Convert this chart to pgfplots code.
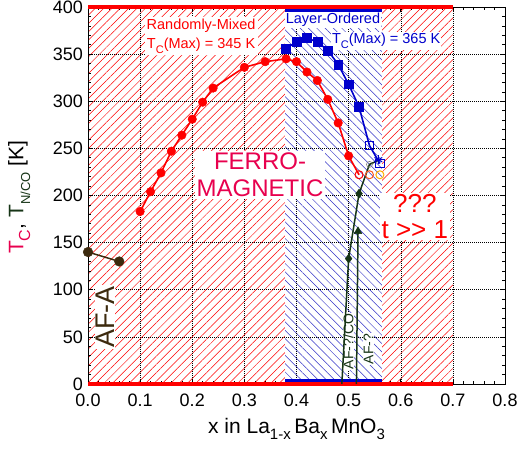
\documentclass[border=0pt]{standalone}
\usepackage{pgfplots}
\pgfplotsset{compat=1.18}
\usepackage{fontspec}
\setmainfont{Liberation Sans}
\usetikzlibrary{patterns.meta}
\definecolor{crim}{HTML}{E8004E}
\definecolor{dgreen}{HTML}{163416}
\definecolor{brn}{HTML}{3C2A0E}
\definecolor{bl}{HTML}{0000CC}
\definecolor{hblue}{HTML}{3434C8}
\definecolor{oranA}{HTML}{FF5A1F}
\definecolor{oranB}{HTML}{FFB000}
\newcommand{\sub}[2][11]{\raisebox{-0.6ex}{\fontsize{#1}{#1}\selectfont #2}}
\begin{document}
\begin{tikzpicture}
\begin{axis}[name=ax, set layers, scale only axis, width=417pt, height=377pt,
  xmin=0, xmax=0.8, ymin=0, ymax=400, clip=false,
  xtick={0,0.1,0.2,0.3,0.4,0.5,0.6,0.7,0.8},
  ytick={0,50,100,150,200,250,300,350,400},
  minor x tick num=4, minor y tick num=4,
  tick align=inside, major tick length=5pt, minor tick length=3pt,
  /pgf/number format/assume math mode=true,
  tick label style={font=\fontsize{18}{18}\selectfont, inner sep=1pt},
  x tick label style={/pgf/number format/.cd, fixed, fixed zerofill, precision=1, /tikz/.cd, yshift=-9pt},
  y tick label style={xshift=-4pt},
  grid=major, grid style={black, line width=0.5pt, dash pattern=on 0.8pt off 1.2pt},
  axis line style={black, line width=0.8pt},
  tick style={black, line width=0.6pt},
  xlabel={x in La\sub[15]{1-x}\,Ba\sub[15]{x}\,MnO\sub[15]{3}},
  ylabel={{\color{crim}T\sub[16]{C}}, {\color{dgreen}T\sub[13]{N/CO}} [K]},
  label style={font=\fontsize{21}{21}\selectfont},
  xlabel style={at={(rel axis cs:0.5,-0.13)}, anchor=base},
  ylabel style={at={(rel axis cs:-0.165,0.495)}, anchor=center},
]
% hatched regions
\addplot[on layer=axis background, draw=none, pattern={Lines[angle=45,distance=5.9pt,line width=0.5pt]}, pattern color=red, forget plot] coordinates {(0,400) (0.7,400)} \closedcycle;
\addplot[on layer=axis background, draw=none, fill=white, forget plot] coordinates {(0.378,400) (0.564,400)} \closedcycle;
\addplot[on layer=axis background, draw=none, pattern={Lines[angle=-45,distance=5.9pt,line width=0.5pt]}, pattern color=hblue, forget plot] coordinates {(0.378,400) (0.564,400)} \closedcycle;
% bars at top and bottom
\addplot[red, line width=4pt, forget plot] coordinates {(0,-0.5) (0.7,-0.5)};
\addplot[red, line width=4pt, forget plot] coordinates {(0,400.5) (0.7,400.5)};
\addplot[bl, line width=3.2pt, forget plot] coordinates {(0.378,4) (0.564,4)};
\addplot[bl, line width=3.2pt, forget plot] coordinates {(0.378,396) (0.564,396)};
% text boxes
\node[fill=white, text=red, align=center, inner sep=2pt, font=\fontsize{14.5}{19}\selectfont] at (axis cs:0.217,369) {Randomly-Mixed\\T\sub{C}(Max) = 345 K};
\node[fill=white, text=bl, inner sep=1pt, font=\fontsize{14.5}{17}\selectfont] at (axis cs:0.470,386) {Layer-Ordered};
\node[fill=white, text=bl, inner sep=1pt, font=\fontsize{14.5}{17}\selectfont] at (axis cs:0.572,364) {T\sub{C}(Max) = 365 K};
\node[fill=white, text=crim, align=center, inner sep=2pt, font=\fontsize{24}{27}\selectfont] at (axis cs:0.33,222) {FERRO-\\MAGNETIC};
\node[fill=white, text=red, align=center, inner sep=1.5pt, font=\fontsize{26}{26}\selectfont] at (axis cs:0.627,178) {???\\t >{}> 1};
\node[fill=white, text=brn, rotate=90, inner sep=1pt, font=\fontsize{27}{27}\selectfont] at (axis cs:0.033,71) {AF-A};
\node[fill=white, text=dgreen, rotate=90, inner sep=0.5pt, font=\fontsize{14}{14}\selectfont] at (axis cs:0.4995,45) {AF-?/CO};
\node[fill=white, text=dgreen, rotate=90, inner sep=0.5pt, font=\fontsize{14}{14}\selectfont] at (axis cs:0.538,37) {AF-?};
% AF-A
\addplot[brn, line width=1.5pt, mark=*, mark size=4.8pt, mark options={fill=brn, line width=0.5pt}] coordinates {(0,140) (0.06,130)};
% dark green lines
\addplot[dgreen, line width=1.5pt, mark=none] coordinates {(0.487,0) (0.50,133) (0.52,202) (0.54,233) (0.556,237)};
\addplot[dgreen, only marks, mark=diamond*, mark size=4.5pt, mark options={fill=dgreen}] coordinates {(0.50,133) (0.52,202)};
\addplot[dgreen, line width=1.5pt, mark=none] coordinates {(0.515,0) (0.518,160)};
\addplot[dgreen, only marks, mark=triangle*, mark size=4.5pt, mark options={fill=dgreen}] coordinates {(0.518,162)};
\addplot[gray, only marks, mark=o, mark size=3pt, mark options={line width=0.6pt}] coordinates {(0.54,233)};
% randomly mixed
\addplot[red, line width=1.6pt, mark=*, mark size=4.3pt, mark options={fill=red, line width=0.4pt}] coordinates {
(0.10,183) (0.12,204) (0.14,224) (0.16,247) (0.18,264) (0.20,281) (0.22,299) (0.24,314)
(0.30,336) (0.34,342) (0.38,345) (0.40,342) (0.42,331) (0.44,322) (0.46,302) (0.48,277) (0.50,242)};
\addplot[red, line width=1.6pt, mark=none] coordinates {(0.50,242) (0.52,222)};
\addplot[red, only marks, mark=o, mark size=4pt, mark options={line width=1pt}] coordinates {(0.52,222)};
\addplot[oranA, only marks, mark=o, mark size=4pt, mark options={line width=1pt}] coordinates {(0.54,222)};
\addplot[oranB, only marks, mark=o, mark size=4pt, mark options={line width=1pt}] coordinates {(0.56,222)};
% layer ordered
\addplot[bl, line width=1.6pt, mark=square*, mark size=4.4pt, mark options={fill=bl, line width=0.4pt}] coordinates {
(0.38,356) (0.40,363) (0.42,367) (0.44,363) (0.46,354) (0.48,339) (0.50,318) (0.52,294)};
\addplot[bl, line width=1.6pt, mark=none] coordinates {(0.52,294) (0.54,253) (0.56,234)};
\addplot[bl, only marks, mark=square, mark size=4.2pt, mark options={line width=0.9pt}] coordinates {(0.54,253) (0.56,234)};
\addplot[bl, only marks, mark=asterisk, mark size=4.5pt, mark options={line width=1pt}] coordinates {(0.557,238)};
\end{axis}
\pgfresetboundingbox
\path ([xshift=-88pt,yshift=-70pt]ax.south west) rectangle ([xshift=13pt,yshift=7pt]ax.north east);
\end{tikzpicture}
\end{document}
